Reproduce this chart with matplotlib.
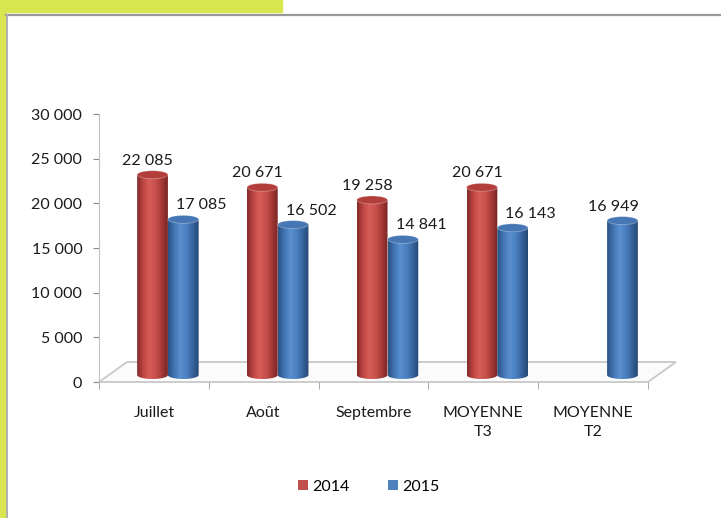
import matplotlib.pyplot as plt
import numpy as np
from matplotlib.patches import Rectangle, Ellipse, Polygon, Patch
from matplotlib.colors import LinearSegmentedColormap

categories = ["Juillet", "Août", "Septembre", "MOYENNE\nT3", "MOYENNE\nT2"]
val_2014 = [22085, 20671, 19258, 20671, None]
val_2015 = [17085, 16502, 14841, 16143, 16949]
series = ["2014", "2015"]
yticks = [0, 5000, 10000, 15000, 20000, 25000, 30000]

RED = "#C0504D"
BLUE = "#4F81BD"
LIME = "#D9E650"

plt.rcParams["font.family"] = ["Lato", "DejaVu Sans"]
plt.rcParams["font.size"] = 11.5

W, H = 721, 518
fig = plt.figure(figsize=(W / 100, H / 100), dpi=100)

# page decoration: lime bands and grey frame
fig.patches.append(Rectangle((0, 0), 6 / W, 1, transform=fig.transFigure, color=LIME, zorder=0))
fig.patches.append(Rectangle((0, 1 - 12 / H), 282 / W, 12 / H, transform=fig.transFigure, color=LIME, zorder=0))
fig.lines.append(plt.Line2D([6 / W, 1], [1 - 14.5 / H] * 2, transform=fig.transFigure, color="#9a9a9a", lw=1.6))
fig.lines.append(plt.Line2D([6.8 / W] * 2, [0, 1 - 14.5 / H], transform=fig.transFigure, color="#b0b0b0", lw=1.4))

ax = fig.add_axes([99 / W, (H - 382) / H, (648 - 99) / W, (382 - 114) / H])
ax.set_xlim(0, len(categories))
ax.set_ylim(0, 30000)

px_y = 30000 / 268.0
px_x = 1 / 109.8

# 3D floor
depth_x, depth_y = 28 * px_x, 20 * px_y
n = len(categories)
floor = Polygon([(0, 0), (n, 0), (n + depth_x, depth_y), (depth_x, depth_y)], closed=True,
                facecolor="#fbfbfb", edgecolor="#c8c8c8", lw=1.3, clip_on=False, zorder=1)
ax.add_patch(floor)

bar_w = 0.28
shift_x, shift_y = depth_x / 2, depth_y / 2 - 3 * px_y
cap_h = 8 * px_y

cm_red = LinearSegmentedColormap.from_list("r", ["#85292a", "#bf4743", "#d65d58", "#c8514d", "#a63a37", "#7a2422"])
cm_blue = LinearSegmentedColormap.from_list("b", ["#2a5285", "#4274b2", "#5990d0", "#4c81c1", "#38649e", "#264874"])
grad = np.linspace(0, 1, 64).reshape(1, -1)


def cylinder(xc, v, cmap, top_col):
    x0, x1 = xc - bar_w / 2, xc + bar_w / 2
    y0, y1 = shift_y, v + shift_y + 3 * px_y
    # body path: rectangle plus lower half of the bottom ellipse
    t = np.linspace(np.pi, 2 * np.pi, 30)
    bottom = [(xc + bar_w / 2 * np.cos(a), y0 + cap_h / 2 * np.sin(a)) for a in t]
    verts = [(x0, y1)] + bottom + [(x1, y1), (x0, y1)]
    clip = Polygon(verts, closed=True, transform=ax.transData, facecolor="none", edgecolor="none")
    ax.add_patch(clip)
    im = ax.imshow(grad, cmap=cmap, extent=(x0, x1, y0 - cap_h, y1), aspect="auto", zorder=3)
    im.set_clip_path(clip)
    ax.add_patch(Ellipse((xc, y1), bar_w, cap_h, facecolor=top_col, edgecolor="#ffffff55",
                         lw=0.6, zorder=4))


for i in range(n):
    xr = i + 0.36 + shift_x
    xb = i + 0.64 + shift_x
    if val_2014[i] is not None:
        cylinder(xr, val_2014[i], cm_red, "#b33f3c")
        ax.annotate(f"{val_2014[i]:,}".replace(",", " "), (xr, val_2014[i]), xytext=(-5, 24),
                    textcoords="offset pixels", ha="center", va="center", color="#1a1a1a", zorder=5)
        dxl = 18
    else:
        dxl = -9
    cylinder(xb, val_2015[i], cm_blue, "#4676b3")
    ax.annotate(f"{val_2015[i]:,}".replace(",", " "), (xb, val_2015[i]), xytext=(dxl, 24),
                textcoords="offset pixels", ha="center", va="center", color="#1a1a1a", zorder=5)

# axes styling
for s in ["top", "right", "bottom"]:
    ax.spines[s].set_visible(False)
ax.spines["left"].set_color("#c0c0c0")
ax.spines["left"].set_bounds(0, 30000)
ax.set_yticks(yticks)
ax.set_yticklabels([f"{t:,}".replace(",", " ") for t in yticks])
ax.tick_params(axis="y", length=4, color="#888888", pad=8, labelcolor="#1a1a1a")
ax.set_xticks(np.arange(n) + 0.5)
ax.set_xticklabels(categories, linespacing=1.45)
ax.set_xticks(np.arange(n + 1), minor=True)
ax.tick_params(axis="x", which="major", length=0, pad=17, labelcolor="#1a1a1a")
ax.tick_params(axis="x", which="minor", length=5, color="#999999")
ax.patch.set_alpha(0)

handles = [Patch(facecolor=RED), Patch(facecolor=BLUE)]
fig.legend(handles, series, loc="center", bbox_to_anchor=(369 / W, 1 - 487 / H), ncol=2,
           frameon=False, handlelength=0.6, handleheight=0.6, handletextpad=0.3,
           columnspacing=2.4, fontsize=11.5)

fig.savefig("out.png", dpi=100)
